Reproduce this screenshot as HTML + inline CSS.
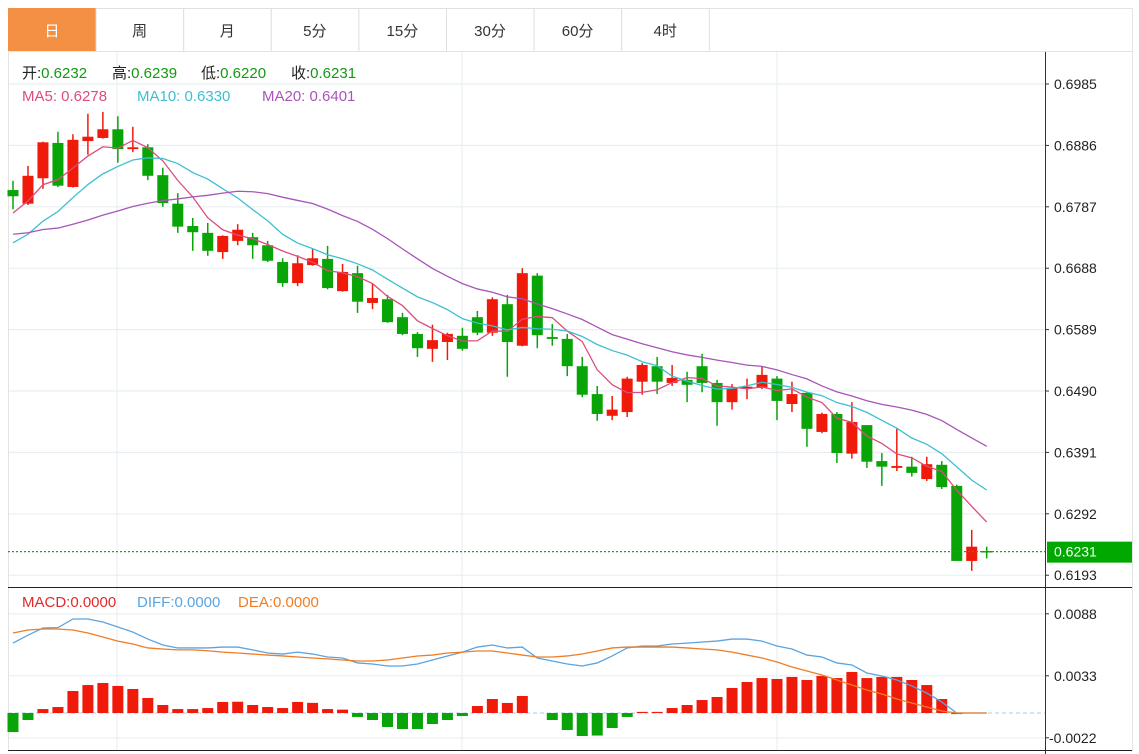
<!DOCTYPE html>
<html><head><meta charset="utf-8">
<style>
html,body{margin:0;padding:0;background:#fff;width:1139px;height:754px;overflow:hidden;font-family:"Liberation Sans","Noto Sans CJK SC",sans-serif;}
svg{position:absolute;left:0;top:0;}
</style></head>
<body>
<svg id="chart" width="1139" height="754" xmlns="http://www.w3.org/2000/svg" font-family="Liberation Sans, Noto Sans CJK SC, sans-serif">
  <rect x="8.5" y="8.5" width="1124" height="742" fill="#fff" stroke="#e3e3e3"/>
  <g id="tabs"></g>
  <line x1="8" y1="51.5" x2="1132" y2="51.5" stroke="#e3e3e3"/>
  <g id="grid"></g>
  <g id="main"></g>
  <g id="macd"></g>
  <line x1="1045.5" y1="52" x2="1045.5" y2="754" stroke="#333"/>
  <line x1="8" y1="587.5" x2="1132" y2="587.5" stroke="#222"/>
  <line x1="8" y1="750.5" x2="1132" y2="750.5" stroke="#222"/>
  <g id="axis"></g>
  <g font-size="15">
    <text x="22" y="78" fill="#222">开:<tspan fill="#119911">0.6232</tspan></text>
    <text x="112" y="78" fill="#222">高:<tspan fill="#119911">0.6239</tspan></text>
    <text x="201" y="78" fill="#222">低:<tspan fill="#119911">0.6220</tspan></text>
    <text x="291" y="78" fill="#222">收:<tspan fill="#119911">0.6231</tspan></text>
  </g>
  <g font-size="15">
    <text x="22" y="101" fill="#dd4c7c">MA5: 0.6278</text>
    <text x="137" y="101" fill="#3cbfd3">MA10: 0.6330</text>
    <text x="262" y="101" fill="#a855b8">MA20: 0.6401</text>
  </g>
  <g font-size="15">
    <text x="22" y="607" fill="#e02a2a">MACD:0.0000</text>
    <text x="137" y="607" fill="#5aa4e0">DIFF:0.0000</text>
    <text x="238" y="607" fill="#ef7d25">DEA:0.0000</text>
  </g>
</svg>
<script>
const opens=[0.6814,0.6792,0.6833,0.6890,0.6819,0.6893,0.6898,0.6912,0.6880,0.6883,0.6838,0.6792,0.6756,0.6745,0.6714,0.6732,0.6738,0.6725,0.6698,0.6664,0.6693,0.6703,0.6651,0.6680,0.6632,0.6638,0.6609,0.6582,0.6558,0.6569,0.6579,0.6609,0.6584,0.6630,0.6563,0.6676,0.6577,0.6574,0.6530,0.6485,0.6450,0.6456,0.6505,0.6530,0.6503,0.6508,0.6530,0.6503,0.6472,0.6495,0.6495,0.6510,0.6469,0.6487,0.6424,0.6453,0.6389,0.6435,0.6377,0.6366,0.6368,0.6348,0.6371,0.6337,0.6216,0.6232];
const highs=[0.6829,0.6853,0.6892,0.6908,0.6904,0.6937,0.6940,0.6933,0.6916,0.6888,0.6850,0.6809,0.6769,0.6761,0.6741,0.6759,0.6745,0.6732,0.6704,0.6709,0.6719,0.6724,0.6695,0.6692,0.6663,0.6645,0.6616,0.6585,0.6597,0.6584,0.6592,0.6619,0.6641,0.6645,0.6688,0.6680,0.6598,0.6582,0.6545,0.6498,0.6482,0.6513,0.6535,0.6545,0.6532,0.6521,0.6550,0.6508,0.6501,0.6510,0.6529,0.6514,0.6505,0.6488,0.6455,0.6456,0.6472,0.6435,0.6390,0.6429,0.6384,0.6384,0.6377,0.6339,0.6266,0.6239];
const lows=[0.6783,0.6790,0.6816,0.6819,0.6818,0.6871,0.6897,0.6858,0.6875,0.6830,0.6787,0.6745,0.6716,0.6708,0.6703,0.6725,0.6703,0.6698,0.6658,0.6659,0.6692,0.6654,0.6650,0.6616,0.6622,0.6600,0.6580,0.6545,0.6537,0.6540,0.6555,0.6580,0.6579,0.6513,0.6562,0.6559,0.6563,0.6514,0.6480,0.6442,0.6443,0.6448,0.6484,0.6485,0.6498,0.6472,0.6488,0.6434,0.6460,0.6477,0.6493,0.6443,0.6456,0.6400,0.6422,0.6374,0.6381,0.6366,0.6337,0.6361,0.6352,0.6345,0.6332,0.6216,0.6200,0.6220];
const closes=[0.6804,0.6837,0.6891,0.6821,0.6895,0.6900,0.6912,0.6880,0.6883,0.6837,0.6793,0.6755,0.6746,0.6716,0.6740,0.6750,0.6725,0.6700,0.6664,0.6696,0.6704,0.6656,0.6682,0.6634,0.6640,0.6601,0.6582,0.6559,0.6572,0.6582,0.6558,0.6584,0.6638,0.6569,0.6680,0.6580,0.6574,0.6530,0.6484,0.6453,0.6460,0.6510,0.6532,0.6505,0.6511,0.6500,0.6503,0.6472,0.6495,0.6497,0.6516,0.6474,0.6485,0.6429,0.6453,0.6390,0.6440,0.6376,0.6368,0.6369,0.6358,0.6372,0.6335,0.6216,0.6239,0.6231];
const priorCloses=[0.6790,0.6785,0.6775,0.6770,0.6765,0.6755,0.6745,0.6740,0.6730,0.6710,0.6700,0.6680,0.6665,0.6670,0.6690,0.6740,0.6760,0.6780,0.6801];
const priceTicks=[0.6985,0.6886,0.6787,0.6688,0.6589,0.6490,0.6391,0.6292,0.6193];
const macdHist=[-0.00169,-0.00062,0.00035,0.00053,0.00195,0.00248,0.00266,0.0024,0.00213,0.00133,0.00071,0.00035,0.00035,0.00044,0.00098,0.001,0.00071,0.00053,0.00044,0.00098,0.0009,0.00035,0.0003,-0.00035,-0.00062,-0.00124,-0.00142,-0.00142,-0.00098,-0.00062,-0.00027,0.00062,0.00124,0.00089,0.00151,0,-0.00062,-0.00151,-0.00204,-0.002,-0.00133,-0.00035,0.0001,0.0001,0.00044,0.00071,0.00115,0.00142,0.00222,0.00275,0.0031,0.00302,0.0032,0.00293,0.00328,0.0031,0.00364,0.0031,0.0032,0.0032,0.00293,0.00248,0.00124,-0.0001,0,0];
const diffLine=[0.0062,0.0069,0.00754,0.00757,0.00834,0.00834,0.00807,0.00763,0.00718,0.00656,0.00603,0.00577,0.00577,0.00577,0.00585,0.00585,0.0056,0.00532,0.00523,0.0054,0.00523,0.00497,0.00488,0.00444,0.00435,0.00417,0.00417,0.00435,0.0047,0.00506,0.0054,0.00585,0.00603,0.00577,0.00585,0.00488,0.00461,0.00435,0.00417,0.00444,0.00506,0.00577,0.00594,0.00594,0.00612,0.0062,0.0063,0.00638,0.00656,0.00656,0.00638,0.00594,0.00568,0.00514,0.00497,0.00444,0.00426,0.00355,0.00328,0.00293,0.0024,0.00177,0.00098,0,0,0];
const deaLine=[0.0071,0.00736,0.00745,0.00745,0.00736,0.0071,0.00674,0.00638,0.00612,0.00577,0.00568,0.0056,0.0056,0.00552,0.0054,0.00532,0.00523,0.00514,0.00506,0.00497,0.00488,0.0048,0.0047,0.00461,0.00461,0.0047,0.00488,0.00506,0.00514,0.00532,0.0054,0.0055,0.0055,0.00532,0.00514,0.00497,0.00497,0.00506,0.00523,0.0055,0.00577,0.00585,0.00585,0.00585,0.00585,0.00577,0.00568,0.0056,0.0054,0.00514,0.00488,0.00452,0.00408,0.00373,0.00337,0.00293,0.00248,0.00204,0.00169,0.00124,0.00089,0.00053,0.00018,0,0,0];
const macdTicks=[0.0088,0.0033,-0.0022];
const tabLabels=["日","周","月","5分","15分","30分","60分","4时"];
const lastPrice=0.6231;

const NS="http://www.w3.org/2000/svg";
function mk(tag,attrs,parent){const e=document.createElementNS(NS,tag);for(const k in attrs)e.setAttribute(k,attrs[k]);parent.appendChild(e);return e;}
const xOf=i=>13+i*14.98;
const yP=v=>84+(0.6985-v)/0.0099*61.4;
const yM=v=>713-v/0.0055*62;
const RED="#f01a0a",GREEN="#08a408";

const tabs=document.getElementById('tabs');
tabLabels.forEach((t,i)=>{
  const x=8+i*87.6;
  const r=mk('rect',{x:x+0.5,y:8.5,width:87.6,height:43,fill:i===0?"#f39043":"#fff",stroke:i===0?"#f39043":"#e0e0e0"},tabs);
  
  
  const tx=mk('text',{x:x+44,y:36,"text-anchor":"middle","font-size":"15",fill:i===0?"#fff":"#333"},tabs);
  tx.textContent=t;
  
  
});

const grid=document.getElementById('grid');
priceTicks.forEach(v=>{mk('line',{x1:8,x2:1045,y1:yP(v),y2:yP(v),stroke:"#e8eff3","stroke-width":1.2},grid);});
macdTicks.forEach(v=>{mk('line',{x1:8,x2:1045,y1:yM(v),y2:yM(v),stroke:"#e8eff3","stroke-width":1.2},grid);});
[117,462,777].forEach(x=>{mk('line',{x1:x,x2:x,y1:52,y2:750,stroke:"#e8eff3","stroke-width":1.2},grid);});
mk('line',{x1:8.5,x2:8.5,y1:52,y2:750,stroke:"#e3e3e3"},grid);

const main=document.getElementById('main');
closes.forEach((c,i)=>{
  const o=opens[i],up=c>=o,col=up?RED:GREEN,x=xOf(i);
  const w=mk('line',{x1:x,x2:x,y1:yP(highs[i]),y2:yP(lows[i]),stroke:col,"stroke-width":1.5},main);
  
  const top=yP(Math.max(o,c)),bot=yP(Math.min(o,c));
  const b=mk('rect',{x:x-5.5,y:top,width:11,height:Math.max(1.5,bot-top),fill:col},main);
  
  
});
const all=priorCloses.concat(closes);
function ma(n){return closes.map((_,i)=>{const j=i+priorCloses.length;let s=0;for(let k=j-n+1;k<=j;k++)s+=all[Math.max(0,k)];return s/n;});}
[[5,"#dd4c7c","ma5-line"],[10,"#3cbfd3","ma10-line"],[20,"#a855b8","ma20-line"]].forEach(([n,col,name])=>{
  const vals=ma(n);
  const p=mk('polyline',{points:vals.map((v,i)=>xOf(i)+","+yP(v)).join(" "),fill:"none",stroke:col,"stroke-width":1.3},main);
  
  
});
const ly=yP(lastPrice);
const dl=mk('line',{x1:8,x2:1045,y1:ly,y2:ly,stroke:"#2a9a2a","stroke-dasharray":"2,2","stroke-width":1.2},main);



const macd=document.getElementById('macd');
mk('line',{x1:8,x2:1045,y1:yM(0),y2:yM(0),stroke:"#9fd0e8","stroke-dasharray":"4,3"},macd);
macdHist.forEach((v,i)=>{
  if(v===0)return;
  const y0=yM(0),y1=yM(v);
  const r=mk('rect',{x:xOf(i)-5.5,y:Math.min(y0,y1),width:11,height:Math.max(1,Math.abs(y1-y0)),fill:v>0?RED:GREEN},macd);
  
  
});
[[diffLine,"#5aa4e0","diff-line"],[deaLine,"#ef7d25","dea-line"]].forEach(([arr,col,name])=>{
  const p=mk('polyline',{points:arr.map((v,i)=>xOf(i)+","+yM(v)).join(" "),fill:"none",stroke:col,"stroke-width":1.3},macd);
  
  
});

const axis=document.getElementById('axis');
priceTicks.forEach(v=>{
  mk('line',{x1:1045,x2:1049,y1:yP(v),y2:yP(v),stroke:"#333"},axis);
  const t=mk('text',{x:1054,y:yP(v)+5,"font-size":"14",fill:"#222"},axis);
  t.textContent=v.toFixed(4);
  
  
});
macdTicks.forEach(v=>{
  mk('line',{x1:1045,x2:1049,y1:yM(v),y2:yM(v),stroke:"#333"},axis);
  const t=mk('text',{x:v<0?1049:1054,y:yM(v)+5,"font-size":"14",fill:"#222"},axis);
  t.textContent=v.toFixed(4);
  
  
});
const box=mk('rect',{x:1047,y:ly-10,width:85,height:21,fill:"#00a800"},axis);


const bt=mk('text',{x:1054,y:ly+5,"font-size":"14",fill:"#fff"},axis);
bt.textContent=lastPrice.toFixed(4);


</script>
</body></html>
